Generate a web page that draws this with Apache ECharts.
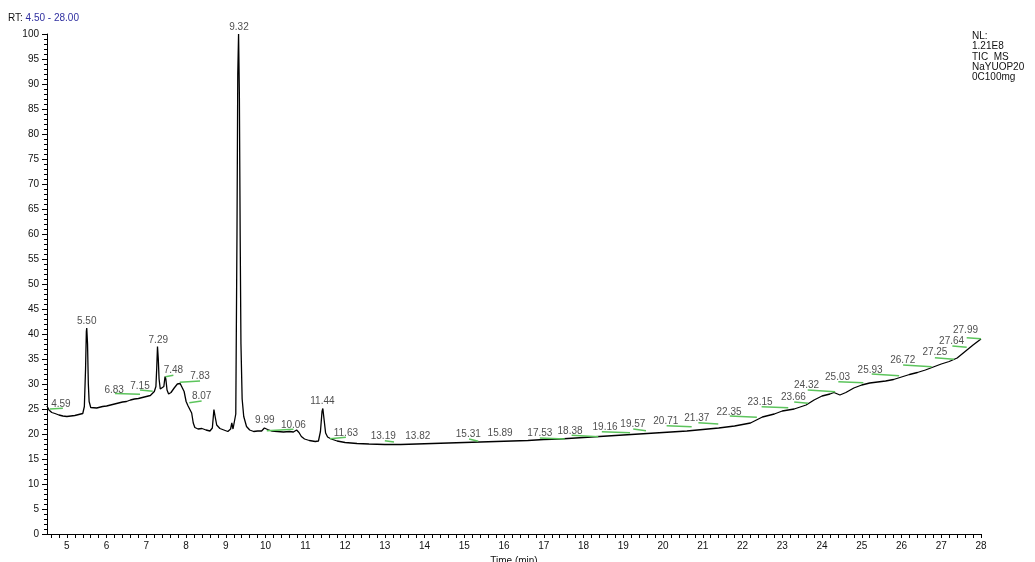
<!DOCTYPE html>
<html>
<head>
<meta charset="utf-8">
<script src="https://cdn.jsdelivr.net/npm/echarts@6.0.0/dist/echarts.min.js"></script>
<style>
html,body{margin:0;padding:0;background:#fff;}
#chart{width:1035px;height:562px;}
</style>
</head>
<body>
<div id="chart"></div>
<script>
// Chromatogram trace (retention time in min, relative abundance %)
const times = [4.50,4.55,4.62,4.70,4.80,4.90,5.00,5.10,5.20,5.30,5.40,5.44,5.47,5.49,5.50,5.52,5.54,5.56,5.60,5.65,5.75,5.90,6.00,6.10,6.20,6.30,6.40,6.50,6.60,6.70,6.80,6.90,7.00,7.10,7.15,7.20,7.24,7.26,7.28,7.30,7.32,7.35,7.40,7.44,7.47,7.49,7.52,7.56,7.62,7.70,7.78,7.85,7.90,7.95,8.00,8.05,8.10,8.14,8.18,8.22,8.30,8.40,8.50,8.60,8.66,8.70,8.73,8.77,8.85,8.95,9.05,9.12,9.15,9.18,9.22,9.25,9.28,9.30,9.32,9.34,9.36,9.38,9.41,9.45,9.52,9.60,9.70,9.80,9.90,9.97,10.00,10.05,10.15,10.30,10.45,10.60,10.70,10.78,10.84,10.90,10.98,11.10,11.25,11.33,11.38,11.42,11.44,11.47,11.51,11.56,11.65,11.80,12.00,12.30,12.60,13.00,13.40,13.80,14.20,14.60,15.00,15.40,15.80,16.20,16.60,17.00,17.40,17.80,18.20,18.60,19.00,19.40,19.80,20.20,20.60,21.00,21.40,21.80,22.20,22.50,22.80,23.00,23.30,23.60,23.80,24.00,24.20,24.30,24.45,24.60,24.80,25.00,25.20,25.40,25.60,25.80,26.00,26.20,26.40,26.60,26.80,27.00,27.20,27.40,27.60,27.80,28.00];
const abundance = [25.6,24.8,24.3,24.1,23.8,23.6,23.5,23.6,23.7,23.9,24.1,25.5,33,40.5,41.2,38,30,26.5,25.3,25.0,25.2,25.5,25.6,25.8,26.0,26.2,26.4,26.5,26.8,27.0,27.1,27.3,27.5,27.7,28.0,28.5,29.5,33,37.5,35,31,29,28.8,29.5,31.5,31.0,28.8,28.0,28.3,29.2,30.0,30.1,29.8,28.5,26.5,25.6,25.3,24.2,22.2,21.3,21.0,21.1,20.8,20.6,21.2,24.9,23.5,21.8,21.1,20.8,20.5,21.0,22.2,21.0,20.6,24,60,92,100,88,60,38,27,23.5,21.5,20.8,20.5,20.6,20.6,21.2,21.5,20.9,20.6,20.5,20.4,20.5,20.4,20.8,20.3,19.5,19.0,18.7,18.5,18.6,20.5,24.5,25.1,23,20.2,19.4,19.0,18.6,18.3,18.1,18.0,17.9,17.9,18.0,18.1,18.2,18.3,18.4,18.5,18.6,18.7,18.9,19.0,19.2,19.4,19.6,19.8,20.0,20.2,20.4,20.6,20.9,21.2,21.6,22.2,23.4,24.0,24.6,25.0,25.8,26.8,27.6,28.0,28.3,27.8,28.3,29.2,29.8,30.2,30.4,30.6,30.9,31.4,31.9,32.3,32.8,33.4,34.0,34.5,35.2,36.5,37.8,39.0];

// Peak annotation texts and their anchor positions (time, abundance)
const peakTexts = ["4.59","5.50","6.83","7.15","7.29","7.48","7.83","8.07","9.32","9.99","10.06","11.44","11.63","13.19","13.82","15.31","15.89","17.53","18.38","19.16","19.57","20.71","21.37","22.35","23.15","23.66","24.32","25.03","25.93","26.72","27.25","27.64","27.99"];
const peakLabelT = [4.85,5.50,6.19,6.84,7.30,7.68,8.35,8.39,9.33,9.98,10.70,11.43,12.02,12.96,13.83,15.10,15.90,16.90,17.66,18.54,19.24,20.07,20.85,21.66,22.44,23.28,23.61,24.39,25.21,26.03,26.84,27.26,27.61];
const peakLabelV = [25.9,42.5,28.8,29.6,38.8,32.7,31.5,27.5,101.4,22.7,21.7,26.5,20.1,19.5,19.5,19.9,20.1,20.1,20.5,21.3,22.0,22.5,23.1,24.3,26.3,27.3,29.7,31.3,32.7,34.7,36.3,38.5,40.7];

// Green integration baselines: [t1, v1, t2, v2]
const baselines = [
  [4.57,25.0,4.90,25.14],[6.21,28.1,6.84,27.94],[6.84,28.8,7.16,28.54],[7.48,31.46,7.68,31.74],
  [7.84,30.34,8.35,30.6],[8.08,26.26,8.39,26.6],[10.03,20.66,10.70,20.94],[11.62,19.06,12.02,19.34],
  [13.00,18.66,13.23,18.4],[15.12,19.0,15.35,18.54],[16.90,19.2,17.53,19.0],[17.70,19.74,18.37,19.46],
  [18.46,20.46,19.17,20.26],[19.25,21.0,19.57,20.66],[20.09,21.66,20.72,21.46],[20.89,22.26,21.39,22.0],
  [21.68,23.6,22.36,23.34],[22.48,25.46,23.15,25.26],[23.30,26.4,23.65,26.14],[23.64,28.8,24.33,28.46],
  [24.41,30.46,25.04,30.26],[25.25,32.0,25.94,31.66],[26.04,33.8,26.76,33.46],[26.84,35.26,27.32,34.94],
  [27.28,37.6,27.64,37.34],[27.64,39.26,28.00,39.06]
];

const xTickLabels = [5,6,7,8,9,10,11,12,13,14,15,16,17,18,19,20,21,22,23,24,25,26,27,28];
const xMinorTicks = [];
for (let i = 23; i <= 140; i++) xMinorTicks.push(Math.round(i * 0.2 * 100) / 100);

const font = 'Liberation Sans, Arial, sans-serif';
const chart = echarts.init(document.getElementById('chart'), null, {renderer: 'canvas'});
chart.setOption({
  animation: false,
  backgroundColor: '#fff',
  grid: {left: 47, right: 54, top: 34, bottom: 28, containLabel: false, outerBoundsMode: 'none'},
  title: [
    {text: '{a|RT: }{b|4.50 - 28.00}', left: 3, top: 8,
     textStyle: {fontWeight: 'normal', rich: {a: {color: '#111', fontSize: 10, fontWeight: 'normal', fontFamily: font}, b: {color: '#2f2fa0', fontSize: 10, fontWeight: 'normal', fontFamily: font}}}},
    {text: 'NL:\n1.21E8\nTIC  MS\nNaYUOP20\n0C100mg', left: 967, top: 26,
     textStyle: {color: '#111', fontSize: 10, fontWeight: 'normal', fontFamily: font, lineHeight: 10.3}}
  ],
  xAxis: {
    type: 'value', min: 4.5, max: 28,
    name: 'Time (min)', nameLocation: 'middle', nameGap: 21,
    nameTextStyle: {color: '#111', fontSize: 10, fontFamily: font},
    axisLine: {show: true, onZero: false, lineStyle: {color: '#000', width: 1}},
    axisTick: {show: true, customValues: xMinorTicks, length: 4, lineStyle: {color: '#000'}},
    axisLabel: {customValues: xTickLabels, color: '#111', fontSize: 10, fontFamily: font, margin: 7},
    splitLine: {show: false}
  },
  yAxis: {
    type: 'value', min: 0, max: 100, interval: 5,
    axisLine: {show: true, lineStyle: {color: '#000', width: 1}},
    axisTick: {show: true, length: 5, lineStyle: {color: '#000'}},
    minorTick: {show: true, splitNumber: 5, length: 3, lineStyle: {color: '#000'}},
    axisLabel: {color: '#111', fontSize: 10, fontFamily: font, margin: 8},
    splitLine: {show: false}
  },
  series: [
    {
      type: 'line', data: times.map((t, i) => [t, abundance[i]]),
      showSymbol: false, symbol: 'none', clip: true,
      lineStyle: {color: '#000', width: 1.3},
      markLine: {
        silent: true, symbol: ['none', 'none'], animation: false,
        label: {show: false},
        lineStyle: {color: '#5cc45c', width: 1.5, type: 'solid'},
        data: baselines.map(b => [{coord: [b[0], b[1]]}, {coord: [b[2], b[3]]}])
      }
    },
    {
      type: 'scatter', symbolSize: 2, clip: false,
      itemStyle: {color: 'rgba(0,0,0,0)'},
      data: peakTexts.map((s, i) => [peakLabelT[i], peakLabelV[i], s]),
      label: {show: true, position: 'inside', formatter: p => p.value[2], color: '#222', fontSize: 10, fontFamily: font},
      silent: true
    }
  ]
});
</script>
</body>
</html>
